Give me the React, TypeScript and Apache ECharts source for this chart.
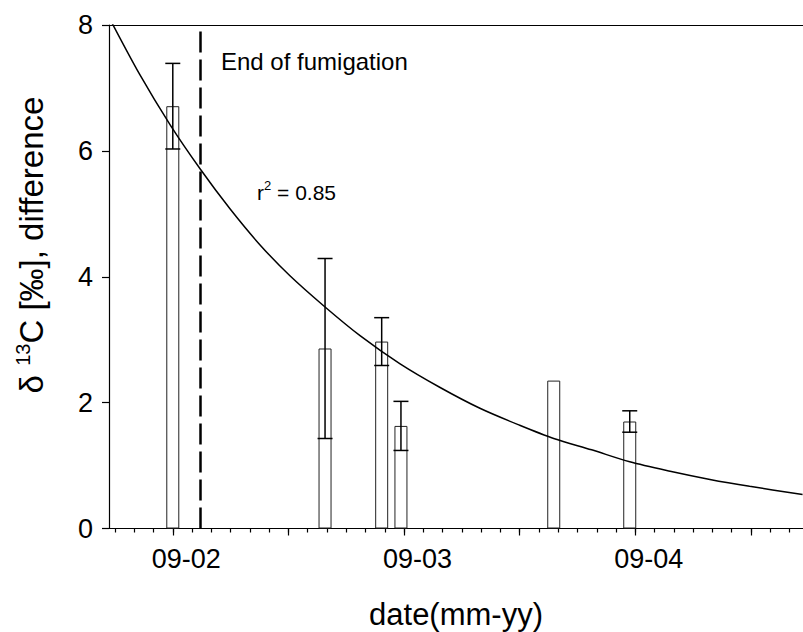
import React, { useEffect, useRef } from "react";
import * as echarts from "echarts";

// ---- data ----
const sampleDates = ["2002-09-01", "2003-04-28", "2003-07-27", "2003-08-27", "2004-04-24", "2004-08-23"];
const diffValues = [6.71, 2.86, 2.97, 1.63, 2.35, 1.7];
const errValues: (number | null)[] = [0.68, 1.43, 0.38, 0.39, null, 0.17];

// fitted curve
const fitDates = [
  "2002-05-22", "2002-07-10", "2002-08-28", "2002-10-15", "2002-11-30", "2003-01-17",
  "2003-03-03", "2003-04-28", "2003-06-23", "2003-08-25", "2003-10-28", "2003-12-30",
  "2004-03-01", "2004-04-24", "2004-06-23", "2004-08-23", "2004-10-26", "2004-12-28",
  "2005-02-27", "2005-05-22",
];
const fitValues = [
  8.13, 7.21, 6.41, 5.7, 5.08, 4.51,
  4.02, 3.52, 3.06, 2.62, 2.24, 1.91,
  1.64, 1.43, 1.25, 1.06, 0.91, 0.78,
  0.67, 0.54,
];

const fumigationEnd = "2002-10-15";
const tickLabels = ["09-02", "09-03", "09-04"];
const tickLabelDates = ["2002-09-01", "2003-09-01", "2004-09-01"];
const yTicks = [0, 2, 4, 6, 8];

// fractional month index since Jan 2000
function monthIndex(d: string): number {
  const [y, m, dd] = d.split("-").map(Number);
  const dim = new Date(y, m, 0).getDate();
  return (y - 2000) * 12 + (m - 1) + (dd - 1) / dim;
}

const X_MIN = 28.69;
const X_MAX = 64.7;
const LABEL_SHIFT = 0.7;

const majorTicks: number[] = [];
for (let v = 26; v <= X_MAX; v += 6) if (v >= X_MIN) majorTicks.push(v);
const minorTicks: number[] = [];
for (let v = 29; v <= X_MAX; v += 1) minorTicks.push(v);
const labelPos = tickLabelDates.map((d) => monthIndex(d) + LABEL_SHIFT);

const FONT = "'Liberation Sans', Arial, Helvetica, sans-serif";

export default function App() {
  const ref = useRef<HTMLDivElement>(null);
  useEffect(() => {
    if (!ref.current) return;
    const chart = echarts.init(ref.current, undefined, { renderer: "svg" });
    const barData = sampleDates.map((d, i) => [monthIndex(d), diffValues[i]]);
    const errData = sampleDates
      .map((d, i) =>
        errValues[i] == null ? null : [monthIndex(d), diffValues[i] - (errValues[i] as number), diffValues[i] + (errValues[i] as number)]
      )
      .filter((x) => x !== null);
    const fitData = fitDates.map((d, i) => [monthIndex(d), fitValues[i]]);

    const option: any = {
      animation: false,
      backgroundColor: "#fff",
      textStyle: { fontFamily: FONT },
      grid: { left: 109, right: 0, top: 25, bottom: 103.5, containLabel: false, outerBoundsMode: "none" },
      xAxis: [
        {
          type: "value",
          min: X_MIN,
          max: X_MAX,
          position: "bottom",
          axisLine: { show: true, lineStyle: { color: "#000", width: 1.2 } },
          axisTick: { show: true, customValues: majorTicks, length: 7, lineStyle: { color: "#000", width: 1.2 } },
          axisLabel: {
            show: true,
            customValues: labelPos,
            margin: 17,
            fontSize: 27,
            color: "#000",
            fontFamily: FONT,
            formatter: (v: number) => {
              const i = labelPos.findIndex((p) => Math.abs(p - v) < 0.01);
              return i >= 0 ? tickLabels[i] : "";
            },
          },
          splitLine: { show: false },
          name: "date(mm-yy)",
          nameLocation: "middle",
          nameGap: 70,
          nameTextStyle: { fontSize: 31, color: "#000", fontFamily: FONT },
        },
        {
          type: "value",
          min: X_MIN,
          max: X_MAX,
          position: "bottom",
          axisLine: { show: false },
          axisTick: { show: true, customValues: minorTicks, length: 4, lineStyle: { color: "#000", width: 1.2 } },
          axisLabel: { show: false },
          splitLine: { show: false },
        },
        {
          type: "value",
          min: X_MIN,
          max: X_MAX,
          position: "top",
          axisLine: { show: true, lineStyle: { color: "#000", width: 1.2 } },
          axisTick: { show: false },
          axisLabel: { show: false },
          splitLine: { show: false },
        },
      ],
      yAxis: {
        type: "value",
        min: 0,
        max: 8,
        interval: 2,
        axisLine: { show: true, lineStyle: { color: "#000", width: 1.2 } },
        axisTick: { show: true, length: 7, lineStyle: { color: "#000", width: 1.2 } },
        axisLabel: {
          fontSize: 27,
          color: "#000",
          margin: 16,
          fontFamily: FONT,
          formatter: (v: number) => (yTicks.includes(v) ? String(v) : ""),
        },
        splitLine: { show: false },
      },
      series: [
        {
          type: "bar",
          xAxisIndex: 0,
          data: barData,
          barWidth: 13,
          itemStyle: { color: "#fff", borderColor: "#222", borderWidth: 1 },
          markLine: {
            silent: true,
            symbol: "none",
            label: { show: false },
            lineStyle: { color: "#000", width: 2.5, type: [21, 7] },
            data: [{ xAxis: monthIndex(fumigationEnd) }],
          },
          z: 2,
        },
        {
          type: "custom",
          xAxisIndex: 0,
          data: errData,
          z: 4,
          renderItem: (params: any, api: any) => {
            const x = api.value(0);
            const lo = api.coord([x, api.value(1)]);
            const hi = api.coord([x, api.value(2)]);
            const half = 7.5;
            const style = { stroke: "#000", lineWidth: 1.5 };
            return {
              type: "group",
              children: [
                { type: "line", shape: { x1: lo[0], y1: lo[1], x2: hi[0], y2: hi[1] }, style },
                { type: "line", shape: { x1: hi[0] - half, y1: hi[1], x2: hi[0] + half, y2: hi[1] }, style },
                { type: "line", shape: { x1: lo[0] - half, y1: lo[1], x2: lo[0] + half, y2: lo[1] }, style },
              ],
            };
          },
        },
        {
          type: "line",
          xAxisIndex: 0,
          data: fitData,
          smooth: 0.3,
          showSymbol: false,
          symbol: "none",
          clip: true,
          lineStyle: { color: "#000", width: 1.5 },
          z: 5,
        },
      ],
      graphic: [
        {
          type: "text",
          x: 221,
          y: 61,
          style: { text: "End of fumigation", font: `24px ${FONT}`, fill: "#000", align: "left", verticalAlign: "middle" },
        },
        {
          type: "text",
          x: 257,
          y: 192,
          style: {
            text: "r{s|2} = 0.85",
            font: `21px ${FONT}`,
            fill: "#000",
            align: "left",
            verticalAlign: "middle",
            rich: { s: { fontSize: 13, fontFamily: FONT, padding: [0, 0, 13, 0] } },
          },
        },
        {
          type: "text",
          x: 31,
          y: 245,
          rotation: Math.PI / 2,
          style: {
            text: "δ {s|13}C [‰], difference",
            font: `33px ${FONT}`,
            fill: "#000",
            align: "center",
            verticalAlign: "middle",
            rich: { s: { fontSize: 20, fontFamily: FONT, padding: [0, 0, 17, 0] } },
          },
        },
      ],
    };
    chart.setOption(option);
    return () => chart.dispose();
  }, []);
  return (
    <div
      ref={ref}
      style={{ position: "absolute", left: 0, top: 0, width: 803, height: 632, background: "#fff" }}
    />
  );
}
